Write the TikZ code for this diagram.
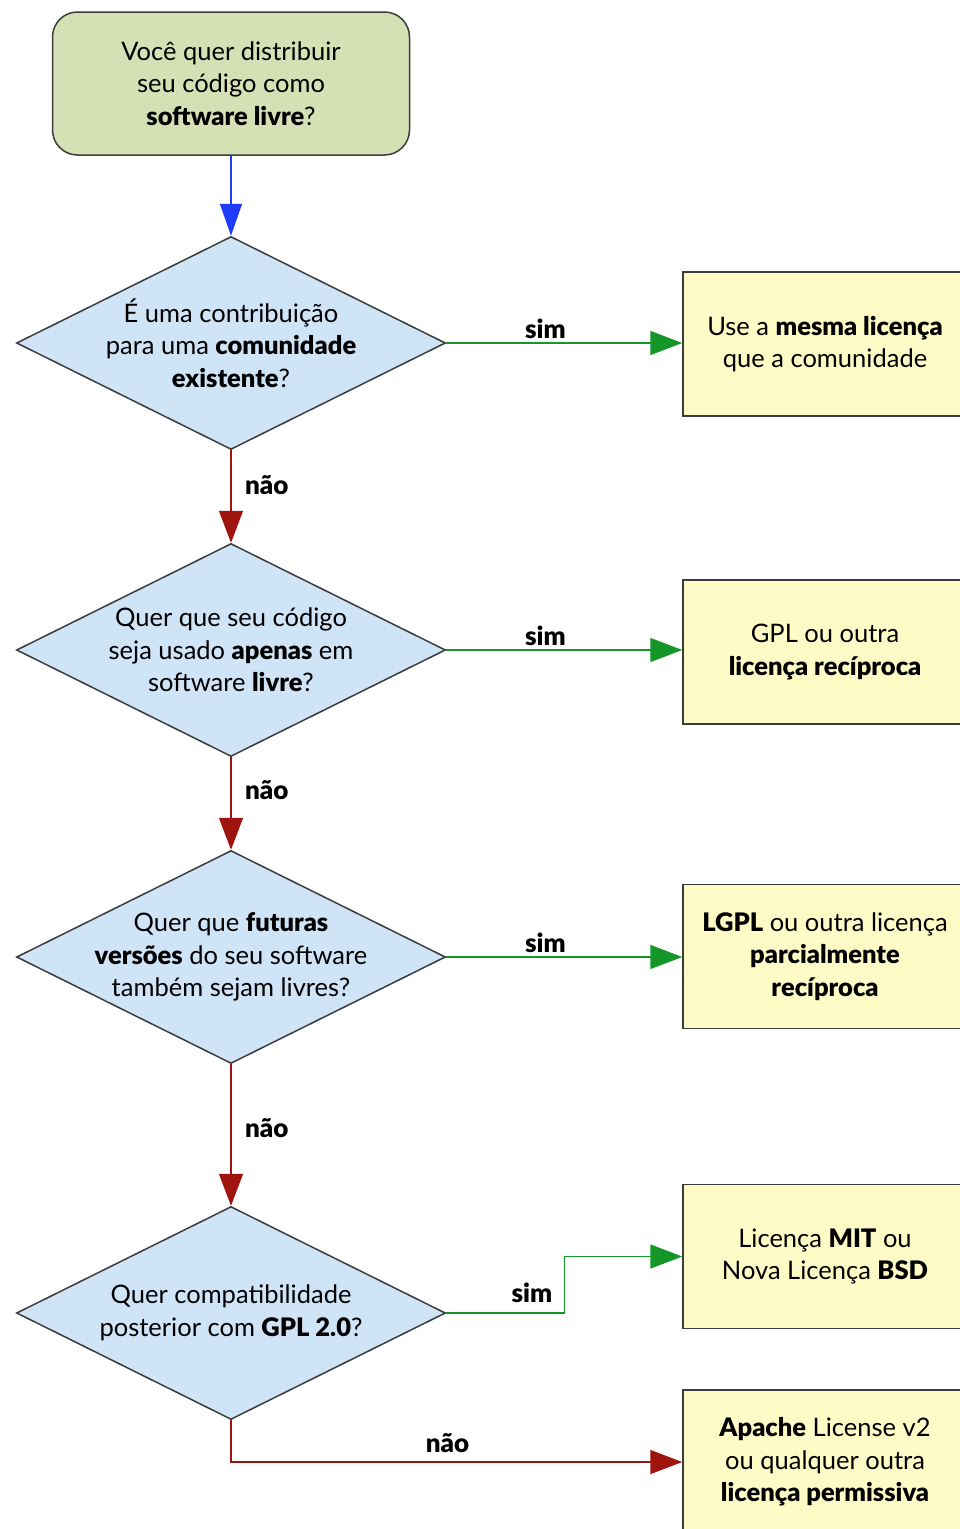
\documentclass[tikz,border=0pt]{standalone}
\usepackage{fontspec}
\setmainfont{Lato}[BoldFont={Lato Black}]
\usetikzlibrary{arrows.meta,shapes.geometric}
\definecolor{startgreen}{RGB}{213,225,180}
\definecolor{askblue}{RGB}{208,228,248}
\definecolor{answeryellow}{RGB}{255,251,198}
\definecolor{edgegray}{RGB}{60,60,60}
\definecolor{simgreen}{RGB}{20,150,40}
\definecolor{naored}{RGB}{160,20,15}
\definecolor{startblue}{RGB}{30,60,250}
\tikzset{%
        x = 1pt,
        y = -1pt,
        every node/.style = {font=\fontsize{25.5}{32.5}\selectfont, align=center}
}
\tikzstyle{start}=[
    draw = edgegray,
    fill = startgreen,
    line width = 1.5pt,
    rounded corners = 25pt,
    minimum width = 357pt,
    minimum height = 143pt
]
\tikzstyle{question}=[
    diamond,
    draw = edgegray,
    fill = askblue,
    line width = 1.5pt,
    inner sep = 0pt,
    minimum width = 429pt,
    minimum height = 213pt
]
\tikzstyle{answer}=[
    rectangle,
    draw = edgegray,
    fill = answeryellow,
    line width = 1.5pt,
    minimum width = 284pt,
    minimum height = 144pt
]
\tikzstyle{startarrow}=[draw=startblue, line width=1.5pt, -{Triangle[length=32pt,width=22pt]}]
\tikzstyle{yesarrow}=[draw=simgreen, line width=1.5pt, -{Triangle[length=32pt,width=24pt]}]
\tikzstyle{noarrow}=[draw=naored, line width=1.5pt, -{Triangle[length=32pt,width=24pt]}]
\tikzstyle{choice}=[font=\fontsize{26}{32.5}\selectfont\bfseries, text=black]

\begin{document}
\begin{tikzpicture}
            \clip (0, 0) rectangle (960, 1529);
            \node[start] (s) at (231, 83.5) {Você quer distribuir\\seu código como\\\textbf{software livre}?};
            \node[question, label={[align=center]center:{É uma contribuição\\para uma \textbf{comunidade}\\\textbf{existente}?}}] (q1) at (231, 343) {};
            \node[question, label={[align=center]center:{Quer que seu código\\seja usado \textbf{apenas} em\\software \textbf{livre}?}}] (q2) at (231, 650) {};
            \node[question, label={[align=center]center:{Quer que \textbf{futuras}\\\textbf{versões} do seu software\\também sejam livres?}}] (q3) at (231, 957) {};
            \node[question, label={[align=center]center:{Quer compatibilidade\\posterior com \textbf{GPL 2.0}?}}] (q4) at (231, 1313) {};
            \node[answer] (r1) at (825, 344) {Use a \textbf{mesma licença}\\que a comunidade};
            \node[answer] (r2) at (825, 652) {GPL ou outra\\\textbf{licença recíproca}};
            \node[answer] (r3) at (825, 956.5) {\textbf{LGPL} ou outra licença\\\textbf{parcialmente}\\\textbf{recíproca}};
            \node[answer] (r4) at (825, 1256.5) {Licença \textbf{MIT} ou\\Nova Licença \textbf{BSD}};
            \node[answer] (r5) at (825, 1462) {\textbf{Apache} License v2\\ou qualquer outra\\\textbf{licença permissiva}};
            \draw[startarrow] (s.south) -- (q1.north);
            \draw[yesarrow] (q1.east) -- node[choice, above, pos=0.42] {sim} (r1.west |- q1.east);
            \draw[yesarrow] (q2.east) -- node[choice, above, pos=0.42] {sim} (r2.west |- q2.east);
            \draw[yesarrow] (q3.east) -- node[choice, above, pos=0.42] {sim} (r3.west |- q3.east);
            \draw[yesarrow] (q4.east) -- node[choice, above left, pos=1, xshift=-8pt, yshift=6pt] {sim} ++(118, 0) |- (r4.west);
            \draw[noarrow] (q1.south) -- node[choice, right, pos=0.38, xshift=10pt] {não} (q2.north);
            \draw[noarrow] (q2.south) -- node[choice, right, pos=0.35, xshift=10pt] {não} (q3.north);
            \draw[noarrow] (q3.south) -- node[choice, right, pos=0.45, xshift=10pt] {não} (q4.north);
            \draw[noarrow] (q4.south) |- node[choice, above, pos=0.74, yshift=5pt] {não} (r5.west);
\end{tikzpicture}
\end{document}
